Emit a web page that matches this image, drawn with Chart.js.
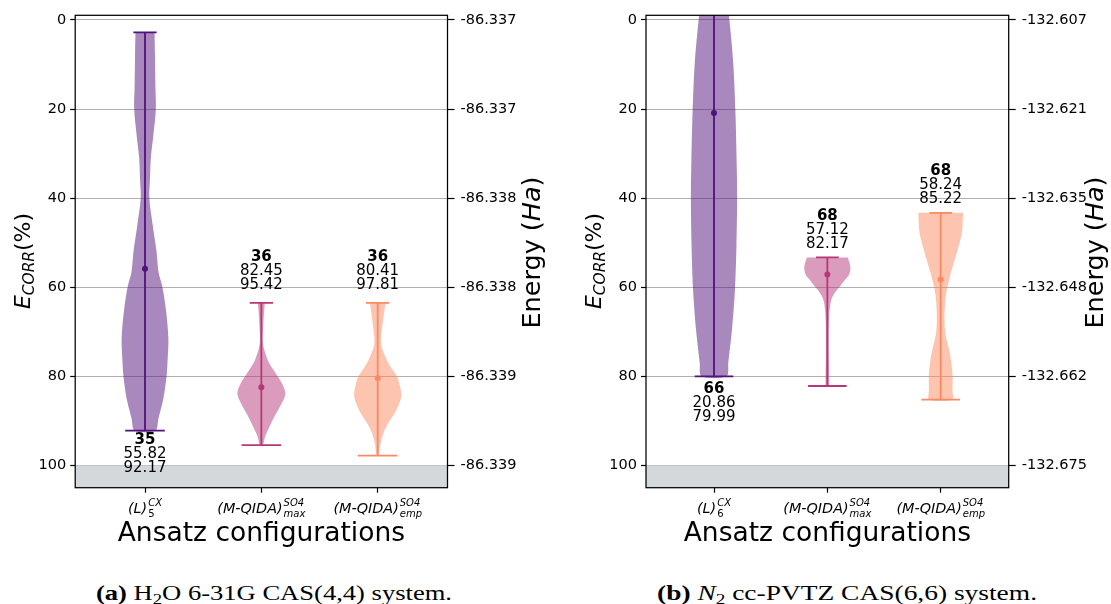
<!DOCTYPE html>
<html>
<head>
<meta charset="utf-8">
<script src="https://cdn.jsdelivr.net/npm/chart.js@4.4.1/dist/chart.umd.min.js"></script>
<style>
  html, body { margin: 0; padding: 0; background: #fff; width: 1111px; height: 604px; overflow: hidden; }
  canvas { position: absolute; top: 0; }
  #cvA { left: 0; }
  #cvB { left: 555px; }
  .cap { position: absolute; top: 583px; font-family: "Liberation Serif", serif; font-size: 20px; line-height: 20px;
         white-space: nowrap; transform-origin: left top; color: #000; }
  .cap sub { font-size: 70%; vertical-align: -0.25em; line-height: 0; }
</style>
</head>
<body>
<canvas id="cvA" width="555" height="560"></canvas>
<canvas id="cvB" width="556" height="560"></canvas>
<div class="cap" id="capA"><b>(a)</b> H<sub>2</sub>O 6-31G CAS(4,4) system.</div>
<div class="cap" id="capB"><b>(b)</b> <i>N</i><sub>2</sub> cc-PVTZ CAS(6,6) system.</div>
<script>
// ---- categories and axis ticks ----
const categoryPos = [1, 2, 3];
const yTicks = [0, 20, 40, 60, 80, 100];
const shadedFrom = 100;

const tickMain = ['(L)', '(M-QIDA)', '(M-QIDA)'];
const tickSup = ['CX', 'SO4', 'SO4'];
const h2oTickSub = ['5', 'max', 'emp'];
const n2TickSub = ['6', 'max', 'emp'];

const h2oEnergyTicks = ['-86.337', '-86.337', '-86.338', '-86.338', '-86.339', '-86.339'];
const n2EnergyTicks = ['-132.607', '-132.621', '-132.635', '-132.648', '-132.662', '-132.675'];

// ---- per-ansatz statistics (E_CORR %) ----
const h2oCounts = [35, 36, 36];
const h2oMeans = [55.82, 82.45, 80.41];
const h2oMaxs = [92.17, 95.42, 97.81];
const h2oMins = [2.8, 63.5, 63.5];

const n2Counts = [66, 68, 68];
const n2Means = [20.86, 57.12, 58.24];
const n2Maxs = [79.99, 82.17, 85.22];
const n2Mins = [-6, 53.3, 43.3];

// ---- violin outlines: E_CORR levels and half-widths (in category units) ----
const h2oLevels = [
  [2.8, 8.6, 14.6, 20, 25.8, 31, 35.6, 40, 46, 52, 56.6, 60, 65.5, 71.5, 76, 79.8, 85, 89.5, 92.17],
  [63.5, 66, 68.2, 72.7, 76.4, 78.3, 80, 82, 84, 86.9, 88.8, 90.6, 93.6, 95.42],
  [63.5, 68.2, 72.7, 76.4, 78.3, 80, 82, 84.3, 86.5, 88.4, 90.3, 92.2, 95.2, 97.81]
];
const h2oHalfWidths = [
  [0.082, 0.086, 0.089, 0.093, 0.072, 0.050, 0.043, 0.037, 0.066, 0.099, 0.116, 0.150, 0.182, 0.201, 0.195, 0.186, 0.158, 0.115, 0.089],
  [0.030, 0.022, 0.017, 0.014, 0.055, 0.097, 0.140, 0.185, 0.206, 0.158, 0.117, 0.083, 0.031, 0.013],
  [0.067, 0.042, 0.029, 0.079, 0.122, 0.165, 0.190, 0.203, 0.179, 0.143, 0.096, 0.057, 0.023, 0.009]
];
const n2Levels = [
  [-6, -1, 9.4, 20.7, 31.9, 40.1, 50.6, 60.4, 69.4, 76.9, 79.99],
  [53.3, 54.7, 55.8, 57.2, 58.4, 59.6, 60.7, 62.9, 66.7, 74.2, 81.4, 82.17],
  [43.3, 47.9, 52.4, 56.9, 61.4, 65.9, 70.4, 74.9, 79.4, 83.1, 85.22]
];
const n2HalfWidths = [
  [0.110, 0.132, 0.169, 0.189, 0.200, 0.204, 0.198, 0.185, 0.159, 0.126, 0.110],
  [0.180, 0.198, 0.204, 0.191, 0.154, 0.118, 0.081, 0.034, 0.016, 0.013, 0.016, 0.012],
  [0.198, 0.186, 0.140, 0.088, 0.048, 0.034, 0.041, 0.081, 0.104, 0.104, 0.101]
];

// ---- styling ----
const violinColors = ['#51127c', '#b73779', '#fc8961'];
const X_MIN = 0.4, X_MAX = 3.6, Y_MIN = -1.05, Y_MAX = 105;
const MIN_CAP_HALF = 0.1, MAX_CAP_HALF = 0.17;
const FONT = '"DejaVu Sans"';
const LINE_STEP = 14;

Chart.defaults.font.family = 'DejaVu Sans';
Chart.defaults.color = '#000';

function withAlpha(hex, a) {
  const r = parseInt(hex.slice(1, 3), 16), g = parseInt(hex.slice(3, 5), 16), b = parseInt(hex.slice(5, 7), 16);
  return `rgba(${r},${g},${b},${a})`;
}

function buildDatasets(p) {
  const ds = [];
  // shaded band beyond 100 %
  ds.push({
    type: 'line', order: 20,
    data: [{x: X_MIN, y: shadedFrom}, {x: X_MAX, y: shadedFrom}, {x: X_MAX, y: Y_MAX}, {x: X_MIN, y: Y_MAX}],
    fill: 'shape', backgroundColor: '#d3d8dc', borderColor: 'transparent', borderWidth: 0, pointRadius: 0
  });
  p.levels.forEach((lv, i) => {
    const c = categoryPos[i];
    const hw = p.half[i];
    const col = violinColors[i];
    const right = lv.map((v, k) => ({x: c + hw[k], y: v}));
    const left = lv.map((v, k) => ({x: c - hw[k], y: v})).reverse();
    ds.push({
      type: 'line', order: 10, data: right.concat(left),
      fill: 'shape', backgroundColor: withAlpha(col, 0.5), borderColor: 'transparent', borderWidth: 0,
      pointRadius: 0, tension: 0.3
    });
    const seg = (pts) => ({type: 'line', order: 5, data: pts, borderColor: col, borderWidth: 1.8,
                           pointRadius: 0, tension: 0, fill: false});
    ds.push(seg([{x: c, y: p.mins[i]}, {x: c, y: p.maxs[i]}]));
    ds.push(seg([{x: c - MIN_CAP_HALF, y: p.mins[i]}, {x: c + MIN_CAP_HALF, y: p.mins[i]}]));
    ds.push(seg([{x: c - MAX_CAP_HALF, y: p.maxs[i]}, {x: c + MAX_CAP_HALF, y: p.maxs[i]}]));
    ds.push({type: 'scatter', order: 1, data: [{x: c, y: p.means[i]}], pointRadius: 3,
             pointBackgroundColor: col, pointBorderWidth: 0, pointBorderColor: col});
  });
  return ds;
}

function drawScripted(ctx, x, y, main, sup, sub) {
  const mainFont = `italic 14.4px ${FONT}`;
  const scriptFont = (t) => (/^\d+$/.test(t) ? '' : 'italic ') + `10px ${FONT}`;
  ctx.font = mainFont; const wm = ctx.measureText(main).width;
  ctx.font = scriptFont(sup); const wsup = ctx.measureText(sup).width;
  ctx.font = scriptFont(sub); const wsub = ctx.measureText(sub).width;
  const total = wm + 1 + Math.max(wsup, wsub);
  const x0 = x - total / 2;
  ctx.textAlign = 'left';
  ctx.font = mainFont; ctx.fillText(main, x0, y);
  ctx.font = scriptFont(sup); ctx.fillText(sup, x0 + wm + 1, y - 7.5);
  ctx.font = scriptFont(sub); ctx.fillText(sub, x0 + wm + 1, y + 3.5);
}

function decorPlugin(p) {
  return {
    id: 'decor' + p.key,
    afterDatasetsDraw(chart) {
      const {ctx, chartArea: a} = chart;
      const xs = chart.scales.x, ys = chart.scales.y;
      ctx.save();
      ctx.strokeStyle = '#000'; ctx.lineWidth = 1.25;
      ctx.strokeRect(a.left, a.top, a.right - a.left, a.bottom - a.top);
      ctx.fillStyle = '#000'; ctx.textAlign = 'center'; ctx.textBaseline = 'alphabetic';
      p.counts.forEach((n, i) => {
        const cx = xs.getPixelForValue(categoryPos[i]);
        const lines = [String(n), p.means[i].toFixed(2), p.maxs[i].toFixed(2)];
        const base = p.labelSide[i] === 'below'
          ? ys.getPixelForValue(p.maxs[i]) + p.belowGap
          : ys.getPixelForValue(p.mins[i]) - p.aboveGap[i] - 2 * LINE_STEP;
        lines.forEach((t, k) => {
          ctx.font = (k === 0 ? 'bold ' : '') + `15px ${FONT}`;
          ctx.fillText(t, cx, base + k * LINE_STEP);
        });
      });
      ctx.restore();
    },
    afterDraw(chart) {
      const {ctx, chartArea: a} = chart;
      const xs = chart.scales.x;
      ctx.save();
      ctx.fillStyle = '#000'; ctx.textBaseline = 'alphabetic';
      // category labels
      categoryPos.forEach((c, i) => {
        drawScripted(ctx, xs.getPixelForValue(c), a.bottom + 25.6, tickMain[i], tickSup[i], p.tickSub[i]);
      });
      // x title
      ctx.textAlign = 'center';
      ctx.font = `26.5px ${FONT}`;
      ctx.fillText('Ansatz configurations', (a.left + a.right) / 2, a.bottom + 53.3);
      // left title: E_CORR(%)
      ctx.save();
      ctx.translate(a.left - 44.8, (a.top + a.bottom) / 2 + 9.5);
      ctx.rotate(-Math.PI / 2);
      const fBig = `italic 22px ${FONT}`, fSub = `italic 15.4px ${FONT}`, fReg = `22px ${FONT}`;
      ctx.font = fBig; const wE = ctx.measureText('E').width;
      ctx.font = fSub; const wC = ctx.measureText('CORR').width;
      ctx.font = fReg; const wP = ctx.measureText('(%)').width;
      let tx = -(wE + wC + wP) / 2;
      ctx.textAlign = 'left';
      ctx.font = fBig; ctx.fillText('E', tx, 0); tx += wE;
      ctx.font = fSub; ctx.fillText('CORR', tx, 4); tx += wC;
      ctx.font = fReg; ctx.fillText('(%)', tx, 0);
      ctx.restore();
      // right title: Energy (Ha)
      ctx.save();
      ctx.translate(a.right + p.energyTitleOffset, (a.top + a.bottom) / 2 + 1);
      ctx.rotate(-Math.PI / 2);
      const fR = `25.5px ${FONT}`, fI = `italic 25.5px ${FONT}`;
      ctx.font = fR; const w1 = ctx.measureText('Energy (').width, w3 = ctx.measureText(')').width;
      ctx.font = fI; const w2 = ctx.measureText('Ha').width;
      let ex = -(w1 + w2 + w3) / 2;
      ctx.textAlign = 'left';
      ctx.font = fR; ctx.fillText('Energy (', ex, 0); ex += w1;
      ctx.font = fI; ctx.fillText('Ha', ex, 0); ex += w2;
      ctx.font = fR; ctx.fillText(')', ex, 0);
      ctx.restore();
      ctx.restore();
    }
  };
}

function makePanel(canvasId, p) {
  const setTicks = (scale) => { scale.ticks = yTicks.map(v => ({value: v})); };
  new Chart(document.getElementById(canvasId), {
    type: 'scatter',
    data: {datasets: buildDatasets(p)},
    options: {
      responsive: false, animation: false, events: [],
      layout: {padding: {top: 15.3, left: 0, right: 0, bottom: 0}},
      plugins: {legend: {display: false}, tooltip: {enabled: false}},
      scales: {
        x: {
          type: 'linear', min: X_MIN, max: X_MAX,
          afterBuildTicks: (s) => { s.ticks = categoryPos.map(v => ({value: v})); },
          afterFit: (s) => { s.height = p.bottomSpace; },
          ticks: {callback: () => ''},
          grid: {drawOnChartArea: false, drawTicks: true, tickLength: 5, tickColor: '#000', tickWidth: 1.2},
          border: {display: false}
        },
        y: {
          type: 'linear', reverse: true, min: Y_MIN, max: Y_MAX, position: 'left',
          afterBuildTicks: setTicks,
          afterFit: (s) => { s.width = p.leftSpace; },
          ticks: {font: {family: 'DejaVu Sans', size: 14.5}, color: '#000', padding: 4, autoSkip: false},
          grid: {color: '#b0b0b0', lineWidth: 1, drawTicks: true, tickLength: 5, tickColor: '#000', tickWidth: 1.2},
          border: {display: false}
        },
        y2: {
          type: 'linear', reverse: true, min: Y_MIN, max: Y_MAX, position: 'right',
          afterBuildTicks: setTicks,
          afterFit: (s) => { s.width = p.rightSpace; },
          ticks: {font: {family: 'DejaVu Sans', size: 14.5}, color: '#000', padding: 6, autoSkip: false,
                  callback: (v) => p.energy[yTicks.indexOf(v)]},
          grid: {drawOnChartArea: false, drawTicks: true, tickLength: 7, tickColor: '#000', tickWidth: 1.2},
          border: {display: false}
        }
      }
    },
    plugins: [decorPlugin(p)]
  });
}

makePanel('cvA', {
  key: 'A', levels: h2oLevels, half: h2oHalfWidths,
  counts: h2oCounts, means: h2oMeans, maxs: h2oMaxs, mins: h2oMins,
  energy: h2oEnergyTicks, tickSub: h2oTickSub,
  labelSide: ['below', 'above', 'above'], belowGap: 13.1, aboveGap: [13.9, 13.9, 13.9],
  leftSpace: 75.2, rightSpace: 107.5, bottomSpace: 72.3, energyTitleOffset: 92
});
makePanel('cvB', {
  key: 'B', levels: n2Levels, half: n2HalfWidths,
  counts: n2Counts, means: n2Means, maxs: n2Maxs, mins: n2Mins,
  energy: n2EnergyTicks, tickSub: n2TickSub,
  labelSide: ['below', 'above', 'above'], belowGap: 17, aboveGap: [11.8, 9.5, 9.5],
  leftSpace: 91, rightSpace: 102.3, bottomSpace: 72.3, energyTitleOffset: 94
});

// captions: stretch to the printed width of each sub-figure caption
function fitCaption(id, left, width) {
  const el = document.getElementById(id);
  const w = el.getBoundingClientRect().width;
  el.style.left = left + 'px';
  el.style.transform = `scaleX(${width / w})`;
}
fitCaption('capA', 96, 356);
fitCaption('capB', 657, 380);
</script>
</body>
</html>
